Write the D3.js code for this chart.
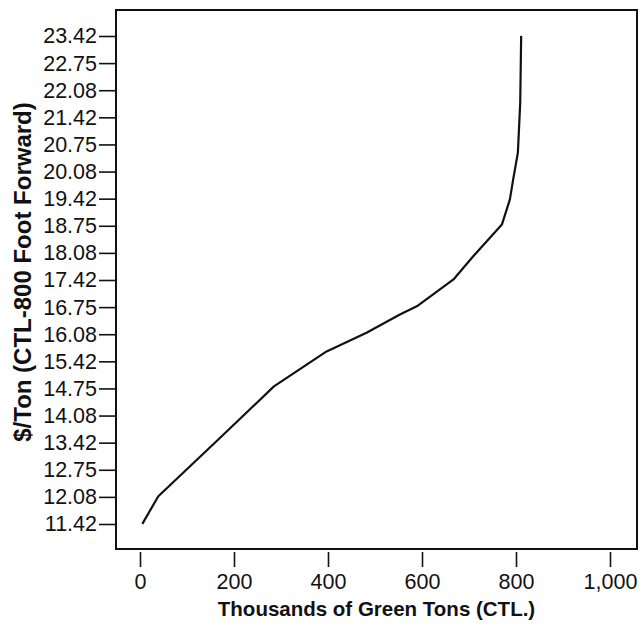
<!DOCTYPE html>
<html>
<head>
<meta charset="utf-8">
<script src="https://cdn.jsdelivr.net/npm/d3@7"></script>
<style>
  body { margin: 0; background: #fff; }
  text { font-family: "Liberation Sans", Arial, sans-serif; }
</style>
</head>
<body>
<div id="chart"></div>
<script>
// supply curve: thousands of green tons vs $/ton
const tons  = [5, 39, 170, 285, 397, 482, 553, 589, 667, 709, 770, 787, 794, 804, 809, 811];
const price = [11.42, 12.1, 13.53, 14.8, 15.66, 16.12, 16.57, 16.77, 17.43, 18.0, 18.78, 19.4, 19.89, 20.55, 21.78, 23.42];

const xTicks = [0, 200, 400, 600, 800, 1000];
const yTickLabels = ["11.42", "12.08", "12.75", "13.42", "14.08", "14.75", "15.42", "16.08", "16.75",
  "17.42", "18.08", "18.75", "19.42", "20.08", "20.75", "21.42", "22.08", "22.75", "23.42"];

const W = 643, H = 628;
const frame = { left: 116, top: 10, right: 637, bottom: 549 };

const svg = d3.select("#chart").append("svg")
  .attr("width", W)
  .attr("height", H);

// scales
const x = d3.scaleLinear().domain([0, 1000]).range([140, 610]);
const y = d3.scaleLinear().domain([11.4167, 23.4167]).range([524, 36]);

// frame box
svg.append("rect")
  .attr("x", frame.left)
  .attr("y", frame.top)
  .attr("width", frame.right - frame.left)
  .attr("height", frame.bottom - frame.top)
  .attr("fill", "none")
  .attr("stroke", "#111")
  .attr("stroke-width", 2);

// y axis (ticks attached to the frame)
const yAxis = d3.axisLeft(y)
  .tickValues(yTickLabels.map((v, i) => 11.4167 + i * 2 / 3))
  .tickFormat((d, i) => yTickLabels[i])
  .tickSize(17)
  .tickPadding(2);

const gy = svg.append("g")
  .attr("transform", `translate(${frame.left},0)`)
  .call(yAxis);
gy.select(".domain").remove();
gy.selectAll("line").attr("stroke", "#111").attr("stroke-width", 1.6);
gy.selectAll("text").attr("font-size", "21.5px").attr("fill", "#111");

// x axis (detached ticks below the frame)
const xAxis = d3.axisBottom(x)
  .tickValues(xTicks)
  .tickFormat(d3.format(","))
  .tickSize(15)
  .tickPadding(7);

const gx = svg.append("g")
  .attr("transform", `translate(0,${frame.bottom + 3})`)
  .call(xAxis);
gx.select(".domain").remove();
gx.selectAll("line").attr("stroke", "#111").attr("stroke-width", 1.6);
gx.selectAll("text").attr("font-size", "21.5px").attr("fill", "#111");

// curve
const pts = tons.map((t, i) => ({ t: t, p: price[i] }));
svg.append("path")
  .datum(pts)
  .attr("fill", "none")
  .attr("stroke", "#111")
  .attr("stroke-width", 2.2)
  .attr("stroke-linejoin", "round")
  .attr("d", d3.line().x(d => x(d.t)).y(d => y(d.p)));

// axis titles
svg.append("text")
  .attr("x", (frame.left + frame.right) / 2)
  .attr("y", 616)
  .attr("text-anchor", "middle")
  .attr("font-size", "20.5px")
  .attr("font-weight", "bold")
  .attr("fill", "#111")
  .text("Thousands of Green Tons (CTL.)");

svg.append("text")
  .attr("transform", `translate(31,272) rotate(-90)`)
  .attr("text-anchor", "middle")
  .attr("font-size", "24px")
  .attr("font-weight", "bold")
  .attr("fill", "#111")
  .text("$/Ton (CTL-800 Foot Forward)");
</script>
</body>
</html>
